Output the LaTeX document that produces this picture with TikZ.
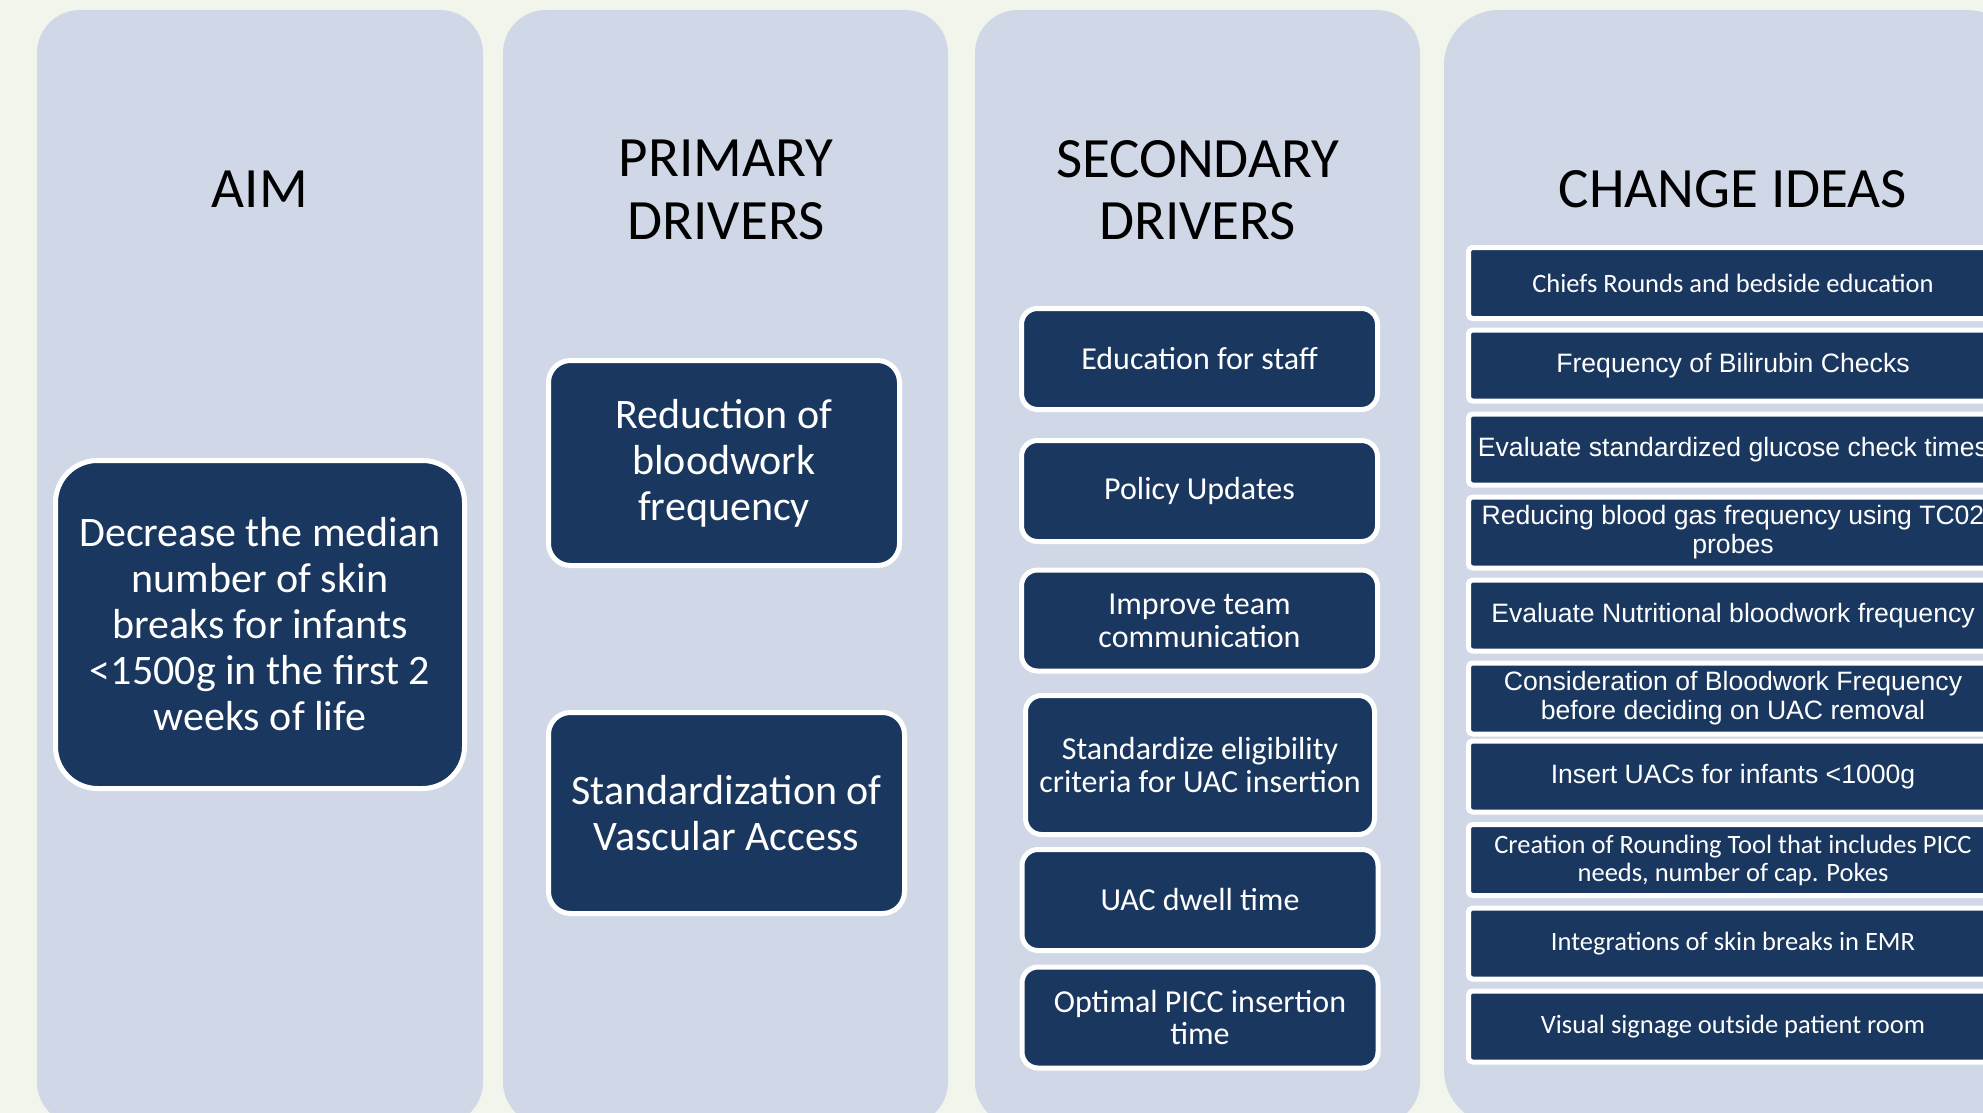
\documentclass[tikz,border=0pt]{standalone}
\usepackage{fontspec}
\setmainfont{Carlito}
\newfontfamily\arialfont{Liberation Sans}
\usepackage{tikz}
\definecolor{pagebg}{HTML}{F1F5EB}
\definecolor{colfill}{HTML}{D0D8E8}
\definecolor{boxfill}{HTML}{1A3760}

\begin{document}
\begin{tikzpicture}[x=0.5pt,y=-0.5pt,
  column/.style={fill=colfill,rounded corners=21.5pt},
  heading/.style={align=center,inner sep=0pt,font=\fontsize{28.5}{31.5}\selectfont},
  darkbox/.style={draw=white,line width=2.5pt,fill=boxfill,text=white,align=center,inner sep=0pt},
  aimbox/.style={darkbox,rounded corners=21pt,minimum width=204.5pt,minimum height=164pt,font=\fontsize{21}{23}\selectfont},
  primbox/.style={darkbox,rounded corners=11pt,font=\fontsize{21}{23}\selectfont},
  secbox/.style={darkbox,rounded corners=8pt,minimum width=178pt,minimum height=50.5pt,font=\fontsize{16}{16.5}\selectfont},
  ideabox/.style={darkbox,rounded corners=2pt,minimum width=264.5pt,minimum height=35.5pt,font=\fontsize{13.25}{14}\selectfont},
  ideaarial/.style={ideabox,font=\arialfont\fontsize{13.3}{14.5}\selectfont}]
\clip (0,0) rectangle (1983,1113);
\fill[pagebg] (0,0) rectangle (1983,1113);
% draws columns
\fill[column] (37,10) rectangle (483,1125);
\fill[column] (503,10) rectangle (948,1125);
\fill[column] (975,10) rectangle (1420,1125);
\fill[column,rounded corners=27.5pt] (1444,10) rectangle (2022,1125);
% labels columns
\node[heading] (aimhead) at (260,189.6) {AIM};
\node[heading] (primhead) at (726,190.2) {PRIMARY\\DRIVERS};
\node[heading] (sechead) at (1197.5,190.2) {SECONDARY\\DRIVERS};
\node[heading] (ideahead) at (1733,189.6) {CHANGE IDEAS};
% draws aim
\node[aimbox] (aim) at (260,624.5) {Decrease the median\\number of skin\\breaks for infants\\<1500g in the first 2\\weeks of life};
% draws primary drivers
\node[primbox,minimum width=175.5pt,minimum height=102.5pt] (bloodwork) at (724,463) {Reduction of\\bloodwork\\frequency};
\node[primbox,minimum width=178pt,minimum height=100.5pt] (vascular) at (726.5,813) {Standardization of\\Vascular Access};
% draws secondary drivers
\node[secbox] (education) at (1199.5,359) {Education for staff};
\node[secbox] (policy) at (1199.5,491) {Policy Updates};
\node[secbox] (teamcomm) at (1199.5,620.5) {Improve team\\communication};
\node[secbox,minimum width=174.5pt,minimum height=69.5pt] (eligibility) at (1200,765) {Standardize eligibility\\criteria for UAC insertion};
\node[secbox] (dwell) at (1200,900) {UAC dwell time};
\node[secbox] (picc) at (1200,1017.5) {Optimal PICC insertion\\time};
% draws change ideas
\node[ideabox] (rounds) at (1733,283) {Chiefs Rounds and bedside education};
\node[ideaarial] (bilirubin) at (1733,365.5) {Frequency of Bilirubin Checks};
\node[ideaarial] (glucose) at (1733,449.5) {Evaluate standardized glucose check times};
\node[ideaarial] (bloodgas) at (1733,532.5) {Reducing blood gas frequency using TC02\\probes};
\node[ideaarial] (nutrition) at (1733,615.5) {Evaluate Nutritional bloodwork frequency};
\node[ideaarial] (uacremoval) at (1733,698.5) {Consideration of Bloodwork Frequency\\before deciding on UAC removal};
\node[ideaarial] (uacinsert) at (1733,776.5) {Insert UACs for infants <1000g};
\node[ideabox] (roundtool) at (1733,860) {Creation of Rounding Tool that includes PICC\\needs, number of cap. Pokes};
\node[ideabox] (emr) at (1733,943.5) {Integrations of skin breaks in EMR};
\node[ideabox] (signage) at (1733,1026.5) {Visual signage outside patient room};
\end{tikzpicture}
\end{document}
